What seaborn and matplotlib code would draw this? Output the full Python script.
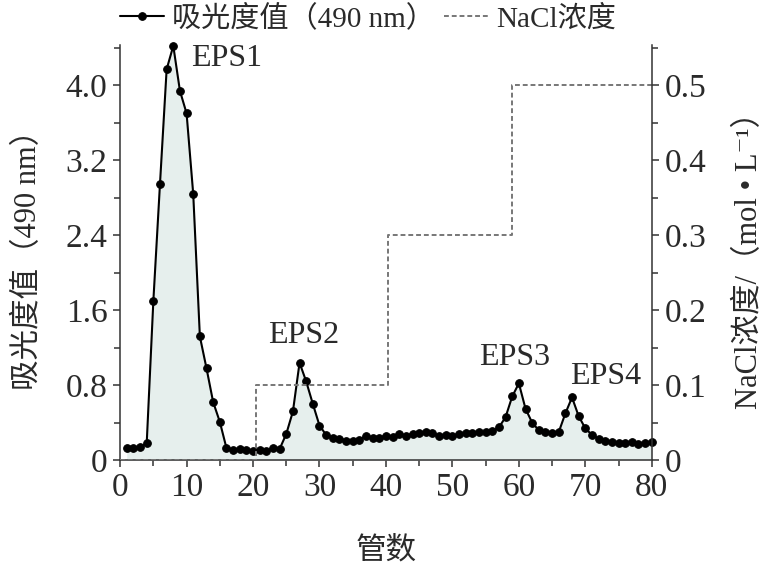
import numpy as np
import pandas as pd
import matplotlib
matplotlib.use("Agg")
import matplotlib.pyplot as plt
import seaborn as sns
from matplotlib.ticker import MultipleLocator, FuncFormatter

tubes = list(range(1, 81))
absorbance = [0.13, 0.13, 0.14, 0.18, 1.70, 2.95, 4.17, 4.42, 3.94, 3.70,
              2.84, 1.32, 0.98, 0.62, 0.41, 0.13, 0.11, 0.12, 0.11, 0.10,
              0.11, 0.10, 0.13, 0.12, 0.28, 0.52, 1.04, 0.84, 0.60, 0.37,
              0.27, 0.24, 0.23, 0.21, 0.21, 0.22, 0.26, 0.24, 0.24, 0.26,
              0.25, 0.28, 0.26, 0.28, 0.29, 0.30, 0.29, 0.26, 0.27, 0.26,
              0.28, 0.29, 0.29, 0.30, 0.30, 0.31, 0.35, 0.46, 0.68, 0.82,
              0.55, 0.40, 0.32, 0.30, 0.29, 0.30, 0.50, 0.67, 0.47, 0.34,
              0.27, 0.23, 0.21, 0.19, 0.18, 0.18, 0.19, 0.17, 0.18, 0.19]
nacl_x = [0, 20.4, 20.4, 40.3, 40.3, 59.0, 59.0, 80]
nacl_y = [0, 0, 0.1, 0.1, 0.3, 0.3, 0.5, 0.5]
peak_labels = ["EPS1", "EPS2", "EPS3", "EPS4"]
peak_x = [16.0, 27.6, 59.4, 73.0]
peak_y = [4.29, 1.33, 1.10, 0.89]
left_ticks = [0, 0.8, 1.6, 2.4, 3.2, 4.0]
right_ticks = [0, 0.1, 0.2, 0.3, 0.4, 0.5]
x_ticks = [0, 10, 20, 30, 40, 50, 60, 70, 80]

sns.set_style("ticks")
plt.rcParams['font.family'] = ['Liberation Serif', 'Noto Sans CJK SC', 'DejaVu Serif']

TFS = 24   # tick labels
AFS = 22   # axis labels
LFS = 21   # legend
EFS = 23   # peak labels
axc = '#333333'
tc = '#2a2a2a'

fig = plt.figure(figsize=(7.75, 5.76), dpi=100)
ax = fig.add_axes([0.155, 0.201, 0.686, 0.721])
ax2 = ax.twinx()

df = pd.DataFrame({"tube": tubes, "abs": absorbance})
ax.fill_between(df["tube"], df["abs"], color='#e6efed', zorder=1, linewidth=0)
sns.lineplot(data=df, x="tube", y="abs", ax=ax, color='black', linewidth=1.5,
             marker='o', markersize=5.5, markeredgecolor='black', markerfacecolor='black',
             label='吸光度值（490 nm）', legend=False, zorder=3, clip_on=False)

ndf = pd.DataFrame({"x": nacl_x, "y": nacl_y})
sns.lineplot(data=ndf, x="x", y="y", ax=ax2, color='#777777', linewidth=1.4,
             linestyle=(0, (2.5, 1.5)), sort=False, estimator=None,
             label='NaCl浓度', legend=False)

ax.set_xlim(0, 80)
ax.set_ylim(0, 4.43)
ax2.set_ylim(0, 4.43 / 8)

ax.set_xticks(x_ticks)
ax.xaxis.set_minor_locator(MultipleLocator(5))
ax.set_yticks(left_ticks)
ax.yaxis.set_minor_locator(MultipleLocator(0.4))
ax2.set_yticks(right_ticks)
ax2.yaxis.set_minor_locator(MultipleLocator(0.05))

fmt = FuncFormatter(lambda v, p: "0" if abs(v) < 1e-9 else f"{v:.1f}")
ax.yaxis.set_major_formatter(fmt)
ax2.yaxis.set_major_formatter(fmt)

for a in (ax, ax2):
    for s in a.spines.values():
        s.set_color(axc)
        s.set_linewidth(1.1)
    a.spines['top'].set_visible(False)
    a.tick_params(which='major', direction='out', length=5, width=1.1, color=axc,
                  labelsize=TFS, labelcolor=tc, pad=4)
    a.tick_params(which='minor', direction='out', length=4, width=1.1, color=axc)
ax.spines['right'].set_visible(False)
ax2.spines['right'].set_visible(True)
ax2.spines['left'].set_visible(False)
ax2.spines['bottom'].set_visible(False)

ax.set_xlabel('管数', fontsize=AFS, color=tc, labelpad=24)
ax.set_ylabel('吸光度值（490 nm）', fontsize=AFS, color=tc, labelpad=16)
ax2.set_ylabel('NaCl浓度/（mol • L⁻¹）', fontsize=AFS, color=tc, labelpad=21)

for t, x, y in zip(peak_labels, peak_x, peak_y):
    ax.text(x, y, t, fontsize=EFS, color=tc, ha='center', va='center')

h1, l1 = ax.get_legend_handles_labels()
h2, l2 = ax2.get_legend_handles_labels()
fig.legend(h1 + h2, l1 + l2, loc='center', bbox_to_anchor=(0.475, 0.968), ncol=2,
           frameon=False, fontsize=LFS, handlelength=1.5, handletextpad=0.3,
           columnspacing=0.3, labelcolor=tc)

fig.savefig('out.png', dpi=100)
